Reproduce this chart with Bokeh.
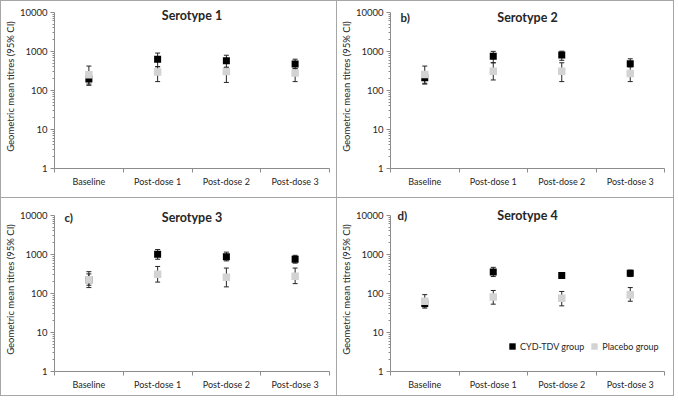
from bokeh.plotting import figure
from bokeh.models import (Range1d, FixedTicker, ColumnDataSource, Whisker, TeeHead,
                          Label, Legend, LegendItem)
from bokeh.layouts import row, column
from bokeh.embed import file_html
from bokeh.resources import INLINE

# ---------------- data ----------------
categories = ["Baseline", "Post-dose 1", "Post-dose 2", "Post-dose 3"]
serotypes = ["Serotype 1", "Serotype 2", "Serotype 3", "Serotype 4"]
panel_tags = ["", "b)", "c)", "d)"]
series_names = ["CYD-TDV group", "Placebo group"]
y_ticks = [1, 10, 100, 1000, 10000]

# CYD-TDV group: geometric mean titres and 95% CI, one row per serotype
cyd_gmt = [[196, 630, 575, 473],
           [211, 750, 810, 480],
           [225, 1000, 870, 750],
           [55, 355, 287, 330]]
cyd_lo = [[145, 405, 390, 360],
          [145, 510, 590, 400],
          [162, 750, 680, 595],
          [45, 270, 242, 270]]
cyd_hi = [[265, 905, 795, 630],
          [270, 1000, 1010, 645],
          [316, 1330, 1140, 945],
          [70, 465, 340, 395]]

# Placebo group
pla_gmt = [[250, 295, 305, 280],
           [256, 310, 310, 270],
           [224, 310, 260, 277],
           [63, 81, 75, 93]]
pla_lo = [[135, 168, 160, 168],
          [152, 185, 168, 168],
          [141, 195, 147, 178],
          [42, 53, 48, 63]]
pla_hi = [[420, 405, 390, 360],
          [420, 510, 510, 440],
          [360, 490, 446, 446],
          [93, 119, 112, 141]]

# ---------------- styling / layout ----------------
FONT = "Lato"
TXT = "#262626"
AXIS = "#8c8c8c"
CYD_COLOR = "#000000"
PLA_COLOR = "#d3d3d3"
LINE = "1px solid #a6a6a6"
Y_TOP_EXT = 0.2  # extra headroom (in decades) above the 10000 tick for the titles

# width, height, min borders (left, right, top, bottom), title log position, tag x offset
panel_geom = [
    (337, 198, 42, 9, 3, 29, 3.92, 10),
    (337, 198, 47, 10, 0, 31, 3.86, 10),
    (337, 198, 42, 9, 7, 25, 3.95, 10),
    (337, 198, 47, 10, 9, 21, 3.985, 7),
]
panel_borders = [
    {"border-top": LINE, "border-left": LINE, "border-right": LINE, "border-bottom": LINE},
    {"border-top": LINE, "border-right": LINE, "border-bottom": LINE},
    {"border-left": LINE, "border-right": LINE, "border-bottom": LINE},
    {"border-right": LINE, "border-bottom": LINE},
]

x_centers = [i + 0.5 for i in range(len(categories))]
x_bounds = list(range(len(categories) + 1))
y_minor = [m * 10 ** k for k in range(4) for m in range(2, 10)]


def make_panel(i):
    w, h, bl, br, bt, bb, tlog, tag_dx = panel_geom[i]
    p = figure(width=w, height=h, y_axis_type="log",
               x_range=Range1d(0, len(categories)),
               y_range=Range1d(1, 10 ** (4 + Y_TOP_EXT)),
               output_backend="svg", toolbar_location=None,
               min_border_left=bl, min_border_right=br,
               min_border_top=bt, min_border_bottom=bb,
               styles=panel_borders[i])
    p.grid.visible = False
    p.outline_line_color = None

    # x axis
    xa = p.xaxis[0]
    xa.ticker = FixedTicker(ticks=x_centers, minor_ticks=x_bounds)
    xa.major_label_overrides = {x: c for x, c in zip(x_centers, categories)}
    xa.major_tick_line_color = None
    xa.major_tick_out = 0
    xa.major_tick_in = 0
    xa.minor_tick_out = 4
    xa.minor_tick_in = 0
    xa.minor_tick_line_color = AXIS
    xa.axis_line_color = AXIS
    xa.major_label_standoff = 3
    xa.major_label_text_font = FONT
    xa.major_label_text_font_size = "9px"
    xa.major_label_text_color = TXT

    # y axis
    ya = p.yaxis[0]
    ya.bounds = (y_ticks[0], y_ticks[-1])
    ya.ticker = FixedTicker(ticks=y_ticks, minor_ticks=y_minor)
    ya.major_label_overrides = {t: str(t) for t in y_ticks}
    ya.axis_line_color = AXIS
    ya.major_tick_line_color = AXIS
    ya.minor_tick_line_color = AXIS
    ya.major_tick_out = 4
    ya.major_tick_in = 0
    ya.minor_tick_out = 2
    ya.minor_tick_in = 0
    ya.major_label_standoff = 3
    ya.major_label_text_font = FONT
    ya.major_label_text_font_size = "9.5px"
    ya.major_label_text_color = TXT
    ya.axis_label = "Geometric mean titres (95% CI)"
    ya.axis_label_text_font = FONT
    ya.axis_label_text_font_size = "9.5px"
    ya.axis_label_text_font_style = "normal"
    ya.axis_label_text_color = TXT
    ya.axis_label_standoff = 1

    renderers = []
    for gmt, lo, hi, color, size in ((cyd_gmt, cyd_lo, cyd_hi, CYD_COLOR, 7),
                                     (pla_gmt, pla_lo, pla_hi, PLA_COLOR, 7.5)):
        src = ColumnDataSource(dict(x=x_centers, gmt=gmt[i], lo=lo[i], hi=hi[i]))
        wk = Whisker(source=src, base="x", lower="lo", upper="hi",
                     line_color=TXT, line_width=1,
                     upper_head=TeeHead(size=5, line_color=TXT, line_width=1),
                     lower_head=TeeHead(size=5, line_color=TXT, line_width=1))
        p.add_layout(wk)
        r = p.scatter("x", "gmt", source=src, marker="square", size=size,
                      fill_color=color, line_color=None)
        renderers.append(r)

    p.add_layout(Label(x=len(categories) / 2, y=10 ** tlog, text=serotypes[i],
                       text_align="center", text_baseline="middle",
                       text_font=FONT, text_font_size="12.5px",
                       text_font_style="bold", text_color=TXT))
    if panel_tags[i]:
        p.add_layout(Label(x=0, x_offset=tag_dx, y=10 ** tlog, text=panel_tags[i],
                           text_align="left", text_baseline="middle",
                           text_font=FONT, text_font_size="11.5px",
                           text_font_style="bold", text_color=TXT))

    if i == 3:
        legend = Legend(items=[LegendItem(label=series_names[0], renderers=[renderers[0]]),
                               LegendItem(label=series_names[1], renderers=[renderers[1]])],
                        location=(114, 17), orientation="horizontal",
                        glyph_width=16, glyph_height=16, label_standoff=0,
                        spacing=2, padding=0, margin=0,
                        label_text_font=FONT, label_text_font_size="9px",
                        label_text_color=TXT,
                        background_fill_alpha=0, border_line_alpha=0)
        p.add_layout(legend)
    return p


panels = [make_panel(i) for i in range(4)]
layout = column(row(panels[0], panels[1]), row(panels[2], panels[3]))

open("out.html", "w").write(file_html(layout, INLINE))
